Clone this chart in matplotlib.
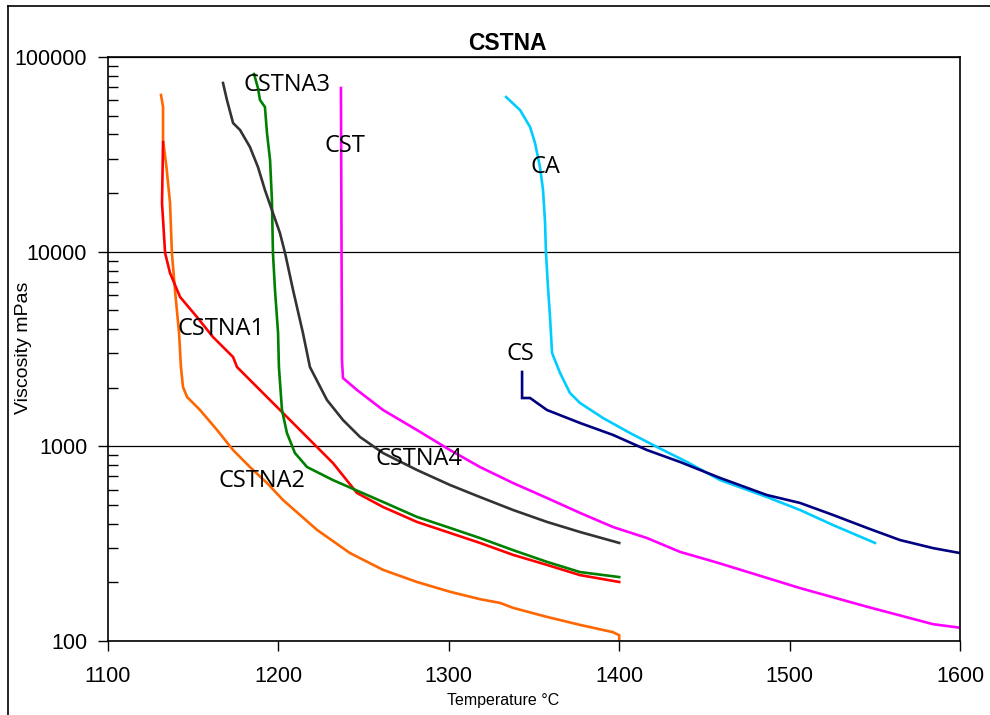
import numpy as np
import matplotlib
matplotlib.use("Agg")
import matplotlib.pyplot as plt
from matplotlib.lines import Line2D
from matplotlib.ticker import FixedLocator, LogLocator, FuncFormatter, NullFormatter

plt.rcParams["font.family"] = ["Liberation Sans", "DejaVu Sans"]

# viscosity curves: temperature (°C), viscosity (mPas)
cstna2_t = [1131.1, 1132.3, 1132.3, 1134.3, 1136.4, 1137.5, 1139.3, 1141.7, 1142.8, 1144.0,
            1146.4, 1154.0, 1164.0, 1173.4, 1183.3, 1193.3, 1202.7, 1222.7, 1242.0, 1261.4,
            1281.3, 1300.7, 1318.3, 1330.0, 1337.7, 1357.6, 1377.0, 1396.4, 1400.0, 1400.0]
cstna2_v = [63800, 55350, 37470, 27220, 17780, 9843, 6354, 3822, 2555, 2018,
            1792, 1537, 1213, 957, 783, 648, 530, 372, 283, 232,
            201, 179, 164, 157, 148, 133, 121, 111, 107, 101]

cstna1_t = [1132.3, 1131.7, 1133.5, 1136.4, 1142.3, 1152.2, 1161.6, 1173.4, 1175.7, 1193.3,
            1202.7, 1218.5, 1232.0, 1246.1, 1261.4, 1281.3, 1300.7, 1318.3, 1337.7, 1357.6,
            1377.0, 1400.0]
cstna1_v = [36580, 17780, 9843, 7770, 5851, 4617, 3644, 2876, 2555, 1792,
            1483, 1078, 821, 576, 488, 409, 359, 319, 277, 246,
            218, 201]

cstna3_t = [1185.7, 1188.0, 1189.2, 1192.1, 1193.3, 1195.1, 1196.2, 1196.8, 1198.0, 1199.8,
            1200.3, 1202.1, 1205.0, 1209.7, 1216.8, 1232.0, 1247.9, 1261.4, 1281.3, 1300.7,
            1318.3, 1337.7, 1357.6, 1377.0, 1400.0]
cstna3_v = [81760, 69290, 60130, 55350, 40700, 29580, 18430, 9843, 6354, 3822,
            2555, 1537, 1171, 924, 783, 671, 583, 518, 434, 381,
            338, 293, 255, 226, 213]

cstna4_t = [1167.5, 1169.8, 1173.4, 1177.5, 1183.3, 1188.0, 1192.1, 1196.8, 1200.9, 1203.9,
            1208.6, 1214.4, 1218.5, 1228.5, 1237.9, 1247.9, 1261.4, 1281.3, 1300.7, 1318.3,
            1337.7, 1357.6, 1377.0, 1400.0]
cstna4_v = [73530, 60130, 45800, 42170, 34480, 27220, 20740, 15800, 12470, 9843,
            6354, 3822, 2555, 1730, 1365, 1117, 924, 756, 633, 549,
            471, 409, 363, 319]

cst_t = [1236.7, 1237.3, 1237.9, 1246.1, 1261.4, 1281.3, 1300.7, 1318.3, 1337.7, 1357.6,
         1377.0, 1396.4, 1416.3, 1435.7, 1458.0, 1506.1, 1545.4, 1584.2, 1600.0]
cst_v = [69290, 2776, 2244, 1948, 1537, 1213, 957, 783, 648, 543,
         455, 385, 338, 287, 252, 187, 150, 122, 117]

ca_t = [1333.6, 1341.8, 1347.7, 1350.6, 1353.5, 1355.3, 1356.5, 1357.0, 1358.2, 1359.4,
        1360.6, 1365.3, 1371.1, 1377.0, 1390.5, 1406.3, 1422.2, 1439.8, 1459.2, 1486.7,
        1506.1, 1525.5, 1550.1]
ca_v = [62300, 53410, 43690, 36150, 27220, 20740, 14040, 9961, 6583, 4617,
        3016, 2380, 1879, 1670, 1398, 1171, 992, 831, 671, 549,
        471, 394, 319]

cs_t = [1343.0, 1343.0, 1347.7, 1357.6, 1377.0, 1396.4, 1416.3, 1435.7, 1459.2, 1486.7,
        1506.1, 1525.5, 1545.4, 1564.8, 1584.2, 1600.0]
cs_v = [2409, 1771, 1771, 1537, 1318, 1144, 957, 831, 688, 562,
        512, 444, 381, 330, 300, 283]

series = [
    ("CSTNA2", cstna2_t, cstna2_v, "#FF6600", (1190.4, 618)),
    ("CSTNA1", cstna1_t, cstna1_v, "#FF0000", (1166.3, 3733)),
    ("CSTNA3", cstna3_t, cstna3_v, "#008000", (1205.0, 66880)),
    ("CSTNA4", cstna4_t, cstna4_v, "#333333", (1282.5, 802)),
    ("CST", cst_t, cst_v, "#FF00FF", (1239.1, 32510)),
    ("CA", ca_t, ca_v, "#00CCFF", (1357.0, 25350)),
    ("CS", cs_t, cs_v, "#000080", (1341.8, 2776)),
]

fig = plt.figure(figsize=(9.9, 7.15), dpi=100)
ax = fig.add_axes([108 / 990, 1 - 641 / 715, 852 / 990, 584 / 715])

for name, t, v, col, pos in series:
    ax.plot(t, v, color=col, lw=1.9, solid_joinstyle="miter")

for name, t, v, col, pos in series:
    ax.text(pos[0], pos[1], name, ha="center", va="baseline", fontsize=17,
            family=["Open Sans", "DejaVu Sans"], color="black")

ax.set_yscale("log")
ax.set_xlim(1100, 1600)
ax.set_ylim(100, 100000)
ax.xaxis.set_major_locator(FixedLocator([1100, 1200, 1300, 1400, 1500, 1600]))
ax.yaxis.set_major_locator(FixedLocator([100, 1000, 10000, 100000]))
ax.yaxis.set_major_formatter(FuncFormatter(lambda val, p: "%d" % round(val)))
ax.yaxis.set_minor_locator(LogLocator(base=10, subs=np.arange(2, 10)))
ax.yaxis.set_minor_formatter(NullFormatter())
ax.tick_params(axis="both", which="major", direction="out", length=7, width=1,
               labelsize=15.5)
ax.tick_params(axis="x", which="major", pad=11)
ax.tick_params(axis="y", which="major", pad=8)
ax.tick_params(axis="y", which="minor", direction="in", length=7, width=1)
ax.yaxis.grid(True, which="major", color="black", lw=0.9)
for s in ax.spines.values():
    s.set_color("black")
    s.set_linewidth(1.2)

fig.text(507 / 990, 1 - 50 / 715, "CSTNA", ha="center", va="baseline",
         fontsize=16.5, fontweight="bold")
fig.text(503 / 990, 1 - 705 / 715, "Temperature °C", ha="center", va="baseline",
         fontsize=11.5)
fig.text(24 / 990, 1 - 348 / 715, "Viscosity mPas", ha="center", va="center",
         rotation=90, fontsize=14)

# outer chart-area frame
fig.add_artist(Line2D([8 / 990, 8 / 990], [0, 1 - 6 / 715], color="black", lw=1.2))
fig.add_artist(Line2D([8 / 990, 1], [1 - 6 / 715, 1 - 6 / 715], color="black", lw=1.2))

fig.savefig("out.png", dpi=100)
